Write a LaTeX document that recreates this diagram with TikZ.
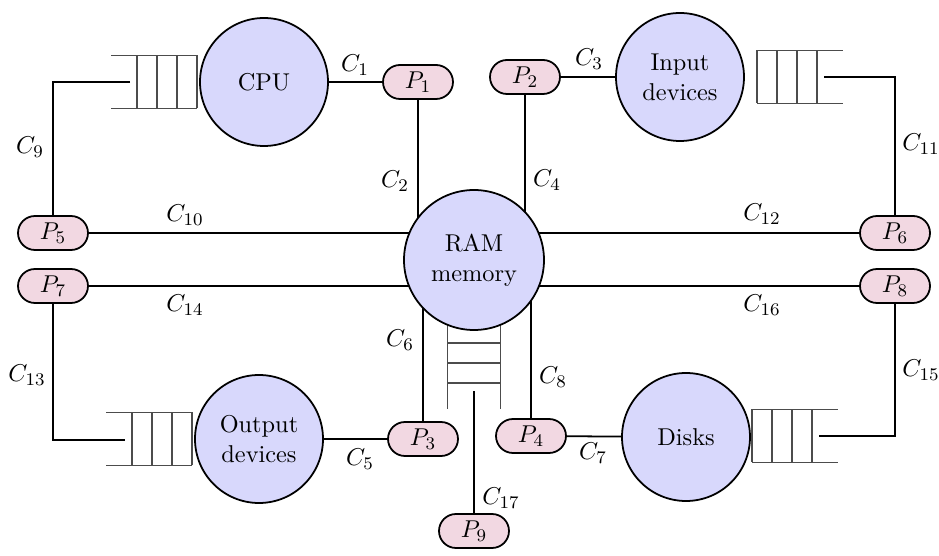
\documentclass[tikz,border=0pt]{standalone}
\usetikzlibrary{shapes.misc,backgrounds}
\definecolor{srvfill}{HTML}{D8D8FC}
\definecolor{portfill}{HTML}{F2D8E2}
\begin{document}
\begin{tikzpicture}[x=0.45pt,y=-0.45pt,
  every node/.style={font=\fontsize{10.95}{13.6}\selectfont},
  server/.style={circle,draw,thick,fill=srvfill,minimum size=57.6pt,inner sep=0pt,align=center},
  port/.style={rounded rectangle,draw,thick,fill=portfill,minimum width=31.5pt,minimum height=15.3pt,inner sep=0pt},
  link/.style={thick},
  lbl/.style={inner sep=1pt},
  qline/.style={draw=black!70,line width=0.6pt},
  pics/fifo/.style={code={
    \draw[qline] (0,-26.5) -- (-86,-26.5) (0,26.5) -- (-86,26.5);
    \foreach \k in {0,20,40,60} \draw[qline] (-\k,-26.5) -- (-\k,26.5);
  }}]
\useasboundingbox (0,0) rectangle (939,556);

% servers
\node[server] (cpu) at (264,82) {CPU};
\node[server] (in)  at (680,77) {Input\\devices};
\node[server,minimum size=63pt] (ram) at (474,260) {RAM\\memory};
\node[server] (out) at (259,439) {Output\\devices};
\node[server] (dsk) at (686,437) {Disks};

% ports
\node[port] (p1) at (418,82)  {$P_1$};
\node[port] (p2) at (525,77)  {$P_2$};
\node[port] (p3) at (423,439) {$P_3$};
\node[port] (p4) at (531,436) {$P_4$};
\node[port] (p5) at (53,233)  {$P_5$};
\node[port] (p6) at (895,233) {$P_6$};
\node[port] (p7) at (53,286)  {$P_7$};
\node[port] (p8) at (895,286) {$P_8$};
\node[port] (p9) at (474,531) {$P_9$};

% queues
\pic at (197,82) {fifo};
\pic at (192,439) {fifo};
\pic[xscale=-1] at (757,77) {fifo};
\pic[xscale=-1] at (752,436) {fifo};

% queue entry points
\coordinate (qcpu) at (130,82);
\coordinate (qout) at (125,440);
\coordinate (qin)  at (824,77);
\coordinate (qdsk) at (819,436);
\coordinate (qram) at (474,391);

\begin{scope}[on background layer]
  \pic[rotate=90] at (474,323) {fifo};
  \draw[link] (p1.south) -- (p1 |- ram.center);
  \draw[link] (p2.south) -- (p2 |- ram.center);
  \draw[link] (p3.north) -- (p3 |- ram.center);
  \draw[link] (p4.north) -- (p4 |- ram.center);
  \draw[link] (p5.east) -- (p5 -| ram.center);
  \draw[link] (p6.west) -- (p6 -| ram.center);
  \draw[link] (p7.east) -- (p7 -| ram.center);
  \draw[link] (p8.west) -- (p8 -| ram.center);
\end{scope}

% connectors
\draw[link] (cpu) -- (p1);
\draw[link] (p2) -- (in);
\draw[link] (out) -- (p3);
\draw[link] (p4) -- (dsk);
\draw[link] (qcpu) -| (p5.north);
\draw[link] (qin) -| (p6.north);
\draw[link] (p7.south) |- (qout);
\draw[link] (p8.south) |- (qdsk);
\draw[link] (p9.north) -- (qram);

% connector labels
\node[lbl] at (355,65)  {$C_1$};
\node[lbl] at (395,181) {$C_2$};
\node[lbl] at (589,59)  {$C_3$};
\node[lbl] at (547,180) {$C_4$};
\node[lbl] at (360,459) {$C_5$};
\node[lbl] at (400,340) {$C_6$};
\node[lbl] at (593,453) {$C_7$};
\node[lbl] at (553,377) {$C_8$};
\node[lbl] at (30,147)  {$C_9$};
\node[lbl] at (185,215) {$C_{10}$};
\node[lbl] at (921,144) {$C_{11}$};
\node[lbl] at (762,214) {$C_{12}$};
\node[lbl] at (27,375)  {$C_{13}$};
\node[lbl] at (185,305) {$C_{14}$};
\node[lbl] at (921,370) {$C_{15}$};
\node[lbl] at (762,305) {$C_{16}$};
\node[lbl] at (501,498) {$C_{17}$};
\end{tikzpicture}
\end{document}
